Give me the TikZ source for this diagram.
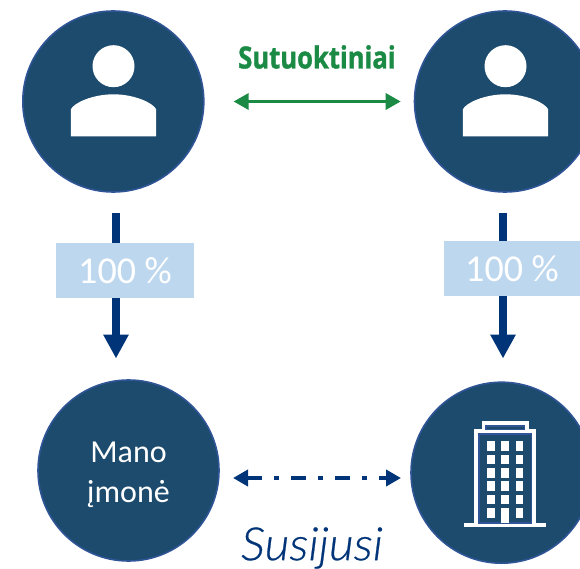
\documentclass[tikz,border=0pt]{standalone}
\usepackage{fontspec}
\setmainfont{Carlito}
\newfontfamily\greenfont[FakeStretch=0.84,BoldFeatures={FakeBold=1.2}]{Open Sans}
\newfontfamily\relfont[FakeStretch=1.05,FakeBold=0.5]{Lato Light}
\usetikzlibrary{arrows.meta}
\definecolor{disc}{HTML}{1C4B6E}
\definecolor{discedge}{HTML}{2F5597}
\definecolor{navy}{HTML}{003478}
\definecolor{pale}{HTML}{BDD7EE}
\definecolor{leaf}{HTML}{1B8A45}
\tikzset{
  disc/.style={circle,draw=discedge,line width=1.6pt,fill=disc,minimum size=181pt,inner sep=0pt,text=white,align=center},
  pct/.style={fill=pale,text=white,inner sep=0pt,font=\fontsize{38}{42}\selectfont},
  own/.style={draw=navy,line width=8pt,-{Triangle[length=24pt,width=24pt]}},
  spouse/.style={draw=leaf,line width=3.2pt,{Triangle[length=15pt,width=16pt]}-{Triangle[length=15pt,width=16pt]}},
  related/.style={draw=navy,line width=4pt,{Triangle[length=15pt,width=16pt]}-{Triangle[length=15pt,width=16pt]},dash pattern=on 15pt off 12pt on 5pt off 12pt,dash phase=0pt}
}
\begin{document}
\begin{tikzpicture}[x=1pt,y=-1pt]
\useasboundingbox (0,0) rectangle (580,569);
\node[disc] (p1) at (113.3,101.5) {};
\node[disc] (p2) at (505,101.5) {};
\node[disc] (co1) at (128.5,470.5) {};
\node[text=white,align=center,inner sep=0pt,font=\fontsize{32}{40}\selectfont] (co1text) at (128.5,474.5) {Mano\\įmonė};
\node[disc] (co2) at (501.5,472.7) {};
% people
\foreach \c/\x in {a/113.5,b/505.5}{
  \fill[white] (\x,66.2) circle (21pt);
  \fill[white] (\x-42.7,136.5) -- (\x-42.7,109.5) .. controls (\x-40,103) and (\x-21,94.3) .. (\x,94.3)
     .. controls (\x+21,94.3) and (\x+40,103) .. (\x+42.7,109.5) -- (\x+42.7,136.5) -- cycle;
}
% building
\fill[white] (464,522.7) rectangle (546,527.3);
\fill[white] (474,429.3) rectangle (536,524);
\fill[white] (481.7,421.3) rectangle (528.7,430);
\fill[disc] (486,425.7) rectangle (524.3,429.3);
\fill[disc] (479,434) rectangle (531.3,522.7);
\foreach \cx in {487.3,501.3,515.7}{
  \foreach \ry in {441.3,454.7,468,481.3,494.7}{
    \fill[white] (\cx,\ry) rectangle ++(7.4,9.7);
  }
}
\fill[white] (487.3,508) rectangle ++(7.4,9.7);
\fill[white] (515.7,508) rectangle ++(7.4,9.7);
\fill[white] (501.3,508) rectangle (508.7,523);
% ownership arrows
\coordinate (o1a) at (116,213);
\coordinate (o1b) at (116,358.5);
\coordinate (o2a) at (503,213);
\coordinate (o2b) at (503,358.5);
\draw[own] (o1a) -- (o1b);
\draw[own] (o2a) -- (o2b);
\node[pct,minimum width=138pt,minimum height=54.7pt] (b1) at (125,270.3) {\raisebox{-1.5pt}{100 \%}};
\node[pct,minimum width=136pt,minimum height=55pt] (b2) at (512,268.5) {\raisebox{-1.5pt}{100 \%}};
% relations
\draw[spouse,shorten <=29pt,shorten >=13pt] (p1) -- (p2);
\node[text=leaf,font=\greenfont\bfseries\fontsize{30.5}{34}\selectfont] (t1) at (317,57) {Sutuoktiniai};
\coordinate (r1) at (233,478);
\coordinate (r2) at (401,478);
\draw[related] (r1) -- (r2);
\node[text=navy,font=\relfont\itshape\fontsize{46}{50}\selectfont] (t2) at (312,548) {Susijusi};
\end{tikzpicture}
\end{document}
